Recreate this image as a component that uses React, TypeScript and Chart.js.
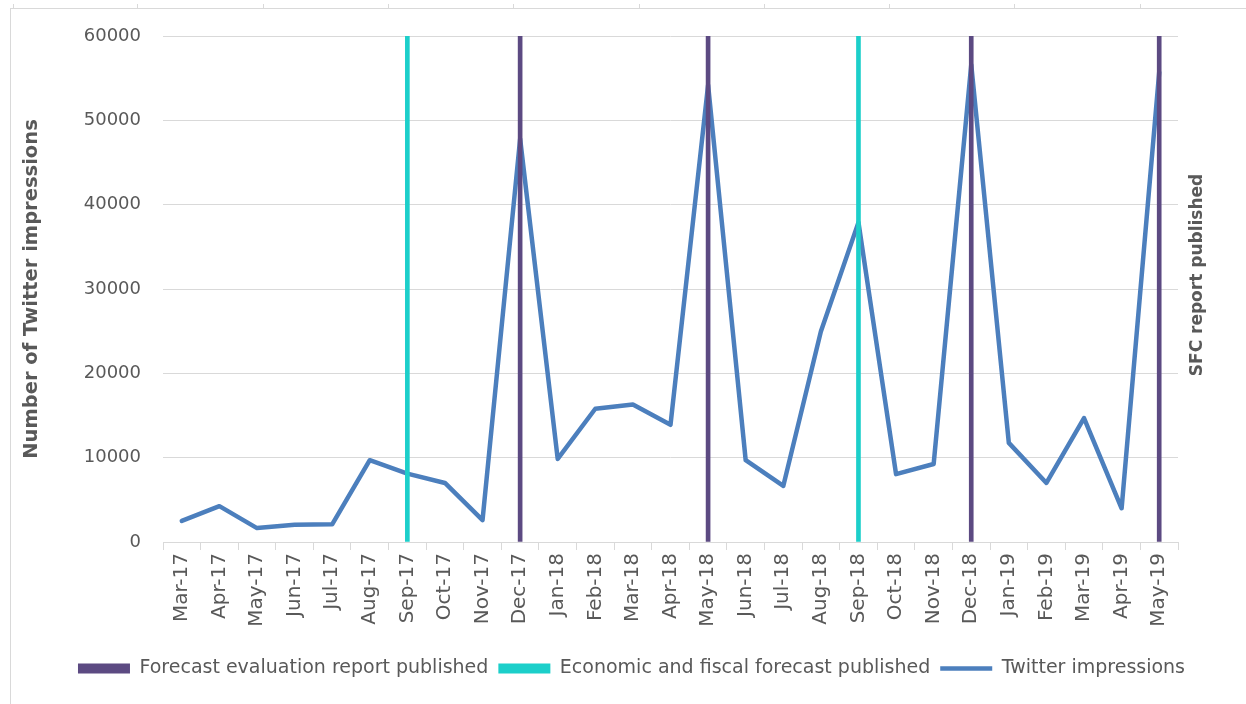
import React, { useEffect, useRef } from "react";
import { Chart, registerables } from "chart.js";

Chart.register(...registerables);

const months = [
  "Mar-17", "Apr-17", "May-17", "Jun-17", "Jul-17", "Aug-17", "Sep-17", "Oct-17", "Nov-17",
  "Dec-17", "Jan-18", "Feb-18", "Mar-18", "Apr-18", "May-18", "Jun-18", "Jul-18", "Aug-18",
  "Sep-18", "Oct-18", "Nov-18", "Dec-18", "Jan-19", "Feb-19", "Mar-19", "Apr-19", "May-19",
];

const twitterImpressions = [
  2500, 4250, 1650, 2050, 2100, 9700, 8100, 7000, 2600,
  47800, 9850, 15800, 16300, 13900, 54200, 9700, 6650, 24950,
  37900, 8050, 9250, 56600, 11750, 7000, 14700, 4000, 55700,
];

const forecastEvaluationPublished = [
  null, null, null, null, null, null, null, null, null,
  60000, null, null, null, null, 60000, null, null, null,
  null, null, null, 60000, null, null, null, null, 60000,
];

const economicFiscalPublished = [
  null, null, null, null, null, null, 60000, null, null,
  null, null, null, null, null, null, null, null, null,
  60000, null, null, null, null, null, null, null, null,
];

const yTicks = [0, 10000, 20000, 30000, 40000, 50000, 60000];

const TEXT = "#595959";
const GRID = "#d9d9d9";
const PURPLE = "#5c4a82";
const TEAL = "#1ccfca";
const BLUE = "#4c7fbd";

const framePlugin = {
  id: "frame",
  beforeDraw(chart: any) {
    const ctx = chart.ctx;
    ctx.save();
    ctx.strokeStyle = GRID;
    ctx.lineWidth = 1;
    ctx.beginPath();
    ctx.moveTo(10, 8.5);
    ctx.lineTo(chart.width, 8.5);
    ctx.moveTo(10.5, 8);
    ctx.lineTo(10.5, chart.height);
    const tickXs = [13, 137, 263, 388, 513, 639, 764, 889, 1014, 1140];
    tickXs.forEach((x) => {
      ctx.moveTo(x + 0.5, 4);
      ctx.lineTo(x + 0.5, 8);
    });
    ctx.stroke();
    ctx.restore();
  },
  afterDraw(chart: any) {
    const ctx = chart.ctx;
    ctx.save();
    ctx.translate(1198, 275);
    ctx.rotate(-Math.PI / 2);
    ctx.fillStyle = TEXT;
    ctx.font = "bold 17px 'DejaVu Sans'";
    ctx.textAlign = "center";
    ctx.textBaseline = "middle";
    ctx.fillText("SFC report published", 0, 0);
    ctx.restore();
  },
};

export default function App() {
  const canvasRef = useRef<HTMLCanvasElement | null>(null);

  useEffect(() => {
    if (!canvasRef.current) return;
    const chart = new Chart(canvasRef.current, {
      type: "bar",
      data: {
        labels: months,
        datasets: [
          {
            type: "bar",
            label: "Forecast evaluation report published",
            data: forecastEvaluationPublished as any,
            backgroundColor: PURPLE,
            borderWidth: 0,
            barThickness: 4,
            grouped: false,
            pointStyle: "rect",
          } as any,
          {
            type: "bar",
            label: "Economic and fiscal forecast published",
            data: economicFiscalPublished as any,
            backgroundColor: TEAL,
            borderWidth: 0,
            barThickness: 4,
            grouped: false,
            pointStyle: "rect",
          } as any,
          {
            type: "line",
            label: "Twitter impressions",
            data: twitterImpressions,
            borderColor: BLUE,
            backgroundColor: BLUE,
            borderWidth: 4.5,
            pointRadius: 0,
            tension: 0,
            borderJoinStyle: "round",
            borderCapStyle: "round",
            pointStyle: "line",
          } as any,
        ],
      },
      options: {
        animation: false,
        responsive: true,
        maintainAspectRatio: false,
        layout: { padding: { left: 17, right: 0, top: 36, bottom: 16 } },
        plugins: {
          tooltip: { enabled: false },
          legend: {
            position: "bottom",
            labels: {
              usePointStyle: true,
              pointStyleWidth: 52,
              boxHeight: 10,
              color: TEXT,
              padding: 10,
              font: { family: "'DejaVu Sans'", size: 19 },
            },
          },
        },
        scales: {
          x: {
            offset: true,
            grid: {
              display: true,
              offset: true,
              drawOnChartArea: false,
              drawTicks: true,
              tickLength: 8,
              color: GRID,
            },
            border: { display: true, color: GRID },
            ticks: {
              autoSkip: false,
              maxRotation: 90,
              minRotation: 90,
              color: TEXT,
              padding: 3,
              font: { family: "'DejaVu Sans'", size: 20 },
            },
            afterFit: (scale: any) => {
              scale.height = 107;
            },
          },
          y: {
            position: "left",
            min: 0,
            max: 60000,
            afterBuildTicks: (scale: any) => {
              scale.ticks = yTicks.map((v) => ({ value: v }));
            },
            grid: { color: GRID, drawTicks: false },
            border: { display: false },
            ticks: {
              color: TEXT,
              padding: 22,
              font: { family: "'DejaVu Sans'", size: 18 },
              callback: (v: any) => String(v),
            },
            title: {
              display: true,
              text: "Number of Twitter impressions",
              color: TEXT,
              font: { family: "'DejaVu Sans'", size: 19.5, weight: "bold" },
              padding: { top: 3, bottom: 3 },
            },
            afterFit: (scale: any) => {
              scale.width = 146;
            },
          },
          y1: {
            position: "right",
            min: 0,
            max: 60000,
            grid: { display: false },
            border: { display: false },
            ticks: { display: false },
            afterFit: (scale: any) => {
              scale.width = 68;
            },
          },
        },
      },
      plugins: [framePlugin],
    });
    return () => chart.destroy();
  }, []);

  return (
    <div style={{ position: "absolute", left: 0, top: 0, width: 1246, height: 704, background: "#ffffff" }}>
      <canvas ref={canvasRef} />
    </div>
  );
}
